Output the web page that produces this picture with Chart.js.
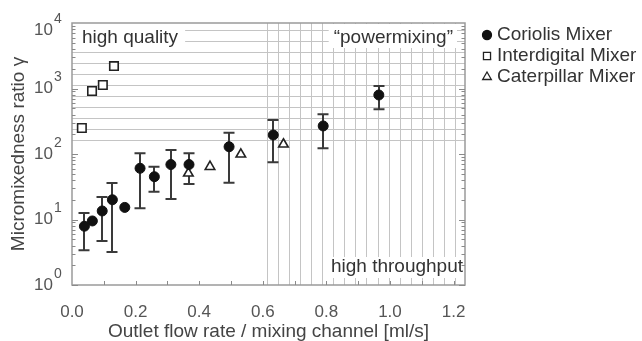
<!DOCTYPE html>
<html>
<head>
<meta charset="utf-8">
<script src="https://cdn.jsdelivr.net/npm/chart.js@4.4.1/dist/chart.umd.min.js"></script>
<style>
  html, body { margin: 0; padding: 0; background: #fff; }
</style>
</head>
<body>
<canvas id="mixers" width="642" height="341"></canvas>
<script>
// values (flow in ml/s, ratio on log scale)
var coriolisFlow  = [0.039, 0.064, 0.095, 0.127, 0.166, 0.214, 0.259, 0.311, 0.368, 0.494, 0.633, 0.790, 0.965];
var coriolisRatio = [7.9, 9.5, 13.5, 20, 15.3, 60.5, 45, 69, 69, 129, 195, 268, 796];
var coriolisLow   = [3.4, null, 4.7, 3.2, null, 14.8, 26.6, 20.6, 34.8, 36.5, 74.7, 122, 481];
var coriolisHigh  = [12.6, null, 22, 36, null, 103, 64, 115, 103, 211, 330, 404, 1092];

var interdigitalFlow  = [0.031, 0.063, 0.097, 0.132];
var interdigitalRatio = [250, 915, 1130, 2200];

var caterpillarFlow  = [0.366, 0.434, 0.531, 0.665];
var caterpillarRatio = [50.7, 64, 99, 141];

var seriesNames = ['Coriolis Mixer', 'Interdigital Mixer', 'Caterpillar Mixer'];
var xTickStep = 0.2;
var xMinorStep = 0.1;
var yTickExponents = [0, 1, 2, 3, 4];

// region borders of the shaded grids
var qualityFloor = 164;
var throughputStart = 0.612;

var FONT = "'Liberation Sans', Arial, sans-serif";

const toPoints = (xs, ys) => xs.map((x, i) => ({ x: x, y: ys[i] }));

const labelBox = (ctx, text, x, y, align, padL, padR, top, bottom) => {
  ctx.font = '19px ' + FONT;
  var w = ctx.measureText(text).width;
  var x0 = align === 'left' ? x : x - w;
  ctx.fillStyle = '#fff';
  ctx.fillRect(x0 - padL, top, w + padL + padR, bottom - top);
  ctx.fillStyle = '#333';
  ctx.textAlign = 'left';
  ctx.textBaseline = 'middle';
  ctx.fillText(text, x0, y);
};

var regionPlugin = {
  id: 'regions',
  beforeDatasetsDraw(chart) {
    var ctx = chart.ctx, a = chart.chartArea;
    var xs = chart.scales.x, ys = chart.scales.y;
    ctx.save();
    ctx.strokeStyle = '#c4c4c4';
    ctx.lineWidth = 1;
    ctx.beginPath();
    for (var y = ys.getPixelForValue(qualityFloor); y > a.top + 3; y -= 11) {
      var yy = Math.round(y) + 0.5;
      ctx.moveTo(a.left, yy);
      ctx.lineTo(a.right, yy);
    }
    for (var x = xs.getPixelForValue(throughputStart); x < a.right - 3; x += 11.1) {
      var xx = Math.round(x) + 0.5;
      ctx.moveTo(xx, a.top);
      ctx.lineTo(xx, a.bottom);
    }
    ctx.stroke();

    labelBox(ctx, 'high quality', a.left + 10, a.top + 15, 'left', 9, 7, a.top + 1, a.top + 25);
    labelBox(ctx, '\u201cpowermixing\u201d', a.right - 12, a.top + 15, 'right', 5, 4, a.top + 1, a.top + 25);
    labelBox(ctx, 'high throughput', a.right - 2, a.bottom - 18, 'right', 3, 1, a.bottom - 28, a.bottom - 7);

    // error bars of the Coriolis mixer
    ctx.strokeStyle = '#3a3a3a';
    ctx.lineWidth = 2;
    ctx.beginPath();
    coriolisFlow.forEach((f, i) => {
      if (coriolisLow[i] == null) return;
      var px = Math.round(xs.getPixelForValue(f));
      var pTop = ys.getPixelForValue(coriolisHigh[i]);
      var pBot = ys.getPixelForValue(coriolisLow[i]);
      ctx.moveTo(px, pTop); ctx.lineTo(px, pBot);
      ctx.moveTo(px - 5.5, pTop); ctx.lineTo(px + 5.5, pTop);
      ctx.moveTo(px - 5.5, pBot); ctx.lineTo(px + 5.5, pBot);
    });
    ctx.stroke();
    ctx.restore();
  },
  afterDraw(chart) {
    var ctx = chart.ctx, a = chart.chartArea;
    var xs = chart.scales.x, ys = chart.scales.y;
    ctx.save();
    // frame
    ctx.strokeStyle = '#9a9a9a';
    ctx.lineWidth = 1.5;
    ctx.strokeRect(a.left, a.top, a.right - a.left, a.bottom - a.top);

    // inside tick marks
    ctx.strokeStyle = '#8a8a8a';
    ctx.lineWidth = 1;
    ctx.beginPath();
    for (var e = 0; e < 4; e++) {
      for (var m = 1; m <= 9; m++) {
        var py = Math.round(ys.getPixelForValue(m * Math.pow(10, e))) + 0.5;
        var len = m === 1 ? 6 : 3.5;
        ctx.moveTo(a.left, py); ctx.lineTo(a.left + len, py);
        ctx.moveTo(a.right, py); ctx.lineTo(a.right - len, py);
      }
    }
    for (var k = 1; k * xMinorStep < xs.max; k++) {
      var px = Math.round(xs.getPixelForValue(k * xMinorStep)) + 0.5;
      ctx.moveTo(px, a.bottom); ctx.lineTo(px, a.bottom - 4);
    }
    ctx.stroke();

    // y tick labels 10^n
    ctx.fillStyle = '#555';
    ctx.textBaseline = 'middle';
    yTickExponents.forEach(n => {
      var py = Math.max(ys.getPixelForValue(Math.pow(10, n)), a.top + 7);
      ctx.font = '17px ' + FONT;
      ctx.textAlign = 'right';
      ctx.fillText('10', 53, py);
      ctx.font = '14px ' + FONT;
      ctx.textAlign = 'left';
      ctx.fillText(String(n), 54, py - 11);
    });

    // legend
    var rows = [35, 56, 77];
    var sizes = [4.5, 5, 5];
    chart.data.datasets.forEach((ds, i) => {
      ctx.fillStyle = ds.backgroundColor;
      ctx.strokeStyle = ds.borderColor;
      ctx.lineWidth = 1.3;
      Chart.helpers.drawPoint(ctx, { pointStyle: ds.pointStyle, radius: sizes[i], borderWidth: 1.3, rotation: 0 }, 487, rows[i]);
      ctx.fillStyle = '#333';
      ctx.font = '19px ' + FONT;
      ctx.textAlign = 'left';
      ctx.textBaseline = 'middle';
      ctx.fillText(ds.label, 497, rows[i]);
    });
    ctx.restore();
  }
};

new Chart(document.getElementById('mixers').getContext('2d'), {
  type: 'scatter',
  data: {
    datasets: [{
      label: seriesNames[0],
      data: toPoints(coriolisFlow, coriolisRatio),
      pointStyle: 'circle',
      pointRadius: 5,
      backgroundColor: '#111',
      borderColor: '#111',
      borderWidth: 1
    }, {
      label: seriesNames[1],
      data: toPoints(interdigitalFlow, interdigitalRatio),
      pointStyle: 'rect',
      pointRadius: 6,
      backgroundColor: '#fff',
      borderColor: '#222',
      borderWidth: 1.6
    }, {
      label: seriesNames[2],
      data: toPoints(caterpillarFlow, caterpillarRatio),
      pointStyle: 'triangle',
      pointRadius: 5.5,
      backgroundColor: '#fff',
      borderColor: '#222',
      borderWidth: 1.6
    }]
  },
  options: {
    responsive: false,
    animation: false,
    layout: { padding: { left: 0, top: 23, right: 177, bottom: 0 } },
    plugins: { legend: { display: false }, tooltip: { enabled: false } },
    scales: {
      x: {
        type: 'linear',
        min: 0,
        max: 1.236,
        afterFit: s => { s.height = 56; },
        grid: { display: false, drawTicks: false },
        border: { display: false },
        ticks: {
          stepSize: xTickStep,
          includeBounds: false,
          padding: 17,
          color: '#555',
          font: { family: FONT, size: 17 },
          callback: v => v.toFixed(1)
        },
        title: {
          display: true,
          text: 'Outlet flow rate / mixing channel [ml/s]',
          color: '#444',
          padding: { top: 0, bottom: 0 },
          font: { family: FONT, size: 19, lineHeight: 1 }
        }
      },
      y: {
        type: 'logarithmic',
        min: 1,
        max: 10000,
        afterFit: s => { s.width = 72; },
        grid: { display: false, drawTicks: false },
        border: { display: false },
        ticks: { display: false },
        title: {
          display: true,
          text: 'Micromixedness ratio \u03b3',
          color: '#444',
          padding: { top: 9, bottom: 0 },
          font: { family: FONT, size: 19, lineHeight: 1 }
        }
      }
    }
  },
  plugins: [regionPlugin]
});
</script>
</body>
</html>
